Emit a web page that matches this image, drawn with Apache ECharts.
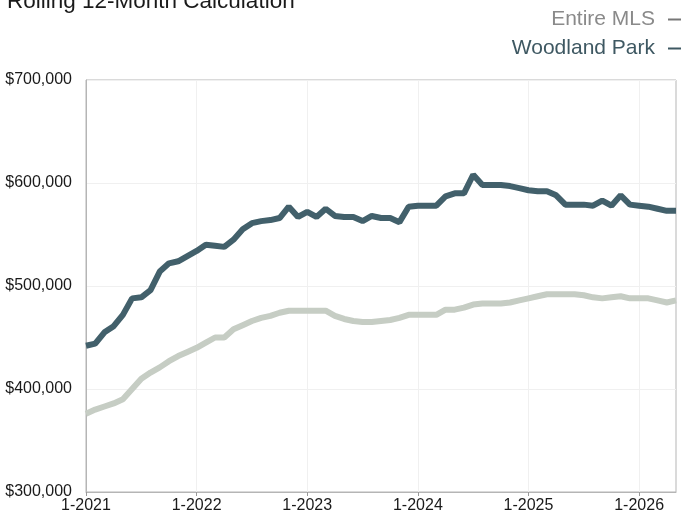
<!DOCTYPE html>
<html>
<head>
<meta charset="utf-8">
<script src="https://cdn.jsdelivr.net/npm/echarts@6/dist/echarts.min.js"></script>
<style>html,body{margin:0;padding:0;background:#fff}#c{width:686px;height:518px}</style>
</head>
<body>
<div id="c"></div>
<script>
// Month categories 1-2021 .. 5-2026
var categories = [];
for (var y = 2021; y <= 2026; y++) {
  for (var m = 1; m <= 12; m++) {
    if (y === 2026 && m > 5) break;
    categories.push(m + '-' + y);
  }
}
var woodlandPark = [442,444,455,461,472,488,489,496,514,522,524,529,
  534,540,539,538,545,555,561,563,564,566,577,567,
  572,567,575,568,567,567,563,568,566,566,562,577,
  578,578,578,587,590,590,608,598,598,598,597,595,
  593,592,592,588,579,579,579,578,583,578,588,579,
  578,577,575,573,573].map(function(v){return v*1000;});
var entireMLS = [376,380,383,386,390,400,410,416,421,427,432,436,
  440,445,450,450,458,462,466,469,471,474,476,476,
  476,476,476,471,468,466,465,465,466,467,469,472,
  472,472,472,477,477,479,482,483,483,483,484,486,
  488,490,492,492,492,492,491,489,488,489,490,488,
  488,488,486,484,486].map(function(v){return v*1000;});
var yTicks = [300000,400000,500000,600000,700000];

var chart = echarts.init(document.getElementById('c'), null, {renderer:'canvas'});
var font = '"Liberation Sans", Arial, sans-serif';
chart.setOption({
  animation: false,
  textStyle: {fontFamily: font},
  graphic: [{
    type: 'text', left: 7, top: -10,
    style: {text: 'Rolling 12-Month Calculation', fill: '#1a1a1a', font: '22.5px ' + font}
  }],
  legend: {
    orient: 'vertical', right: 0, top: 4, align: 'right', itemGap: 8,
    icon: 'rect', itemWidth: 13, itemHeight: 2,
    textStyle: {fontSize: 21, fontFamily: font, padding: [0, 8, 0, 0]},
    data: [
      {name: 'Entire MLS', textStyle: {color: '#8a8a8a'}, itemStyle: {color: '#777'}},
      {name: 'Woodland Park', textStyle: {color: '#3e5862'}, itemStyle: {color: '#3e5862'}}
    ]
  },
  grid: {left: 86, right: 10, top: 80, bottom: 26, show: true, borderColor: '#b5b5b5', borderWidth: 1},
  xAxis: {
    type: 'category', data: categories, boundaryGap: false,
    axisLine: {lineStyle: {color: '#b5b5b5'}},
    axisTick: {show: true, alignWithLabel: true, length: 4, lineStyle: {color: '#999'},
      interval: function(i){return i % 12 === 0;}},
    axisLabel: {interval: function(i){return i % 12 === 0;}, color: '#1a1a1a', fontSize: 16, margin: 6,
      fontFamily: font},
    splitLine: {show: true, interval: function(i){return i % 12 === 0;}, lineStyle: {color: '#f0f0f0'}}
  },
  yAxis: {
    type: 'value', min: 300000, max: 700000, interval: 100000,
    axisLine: {show: true, lineStyle: {color: '#b5b5b5'}},
    axisTick: {show: false},
    axisLabel: {color: '#1a1a1a', fontSize: 16, margin: 14, fontFamily: font,
      formatter: function(v){return '$' + v.toLocaleString('en-US');}},
    splitLine: {lineStyle: {color: '#f0f0f0'}}
  },
  series: [
    {name: 'Entire MLS', type: 'line', data: entireMLS, showSymbol: false, symbol: 'none',
      lineStyle: {color: '#c6cdc4', width: 6}, itemStyle: {color: '#c6cdc4'}, z: 2},
    {name: 'Woodland Park', type: 'line', data: woodlandPark, showSymbol: false, symbol: 'none',
      lineStyle: {color: '#42606b', width: 6}, itemStyle: {color: '#42606b'}, z: 3}
  ]
});
</script>
</body>
</html>
